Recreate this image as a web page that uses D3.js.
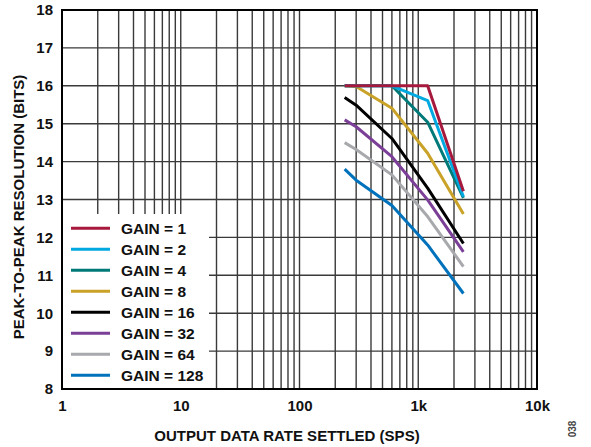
<!DOCTYPE html>
<html><head><meta charset="utf-8">
<script src="https://cdn.jsdelivr.net/npm/d3@7"></script>
<style>body{margin:0;background:#fff}svg{display:block}text{font-family:Arial,"Liberation Sans",sans-serif;font-weight:bold}</style>
</head><body><svg id="c" width="591" height="447"></svg>
<script>
const rates = [240, 300, 600, 1200, 2400];
const gains = ["GAIN = 1","GAIN = 2","GAIN = 4","GAIN = 8","GAIN = 16","GAIN = 32","GAIN = 64","GAIN = 128"];
const gain1   = [16, 16, 16, 16, 13.22];
const gain2   = [16, 16, 16, 15.61, 13.07];
const gain4   = [16, 16, 16, 15.04, 13.04];
const gain8   = [16, 15.98, 15.41, 14.22, 12.62];
const gain16  = [15.69, 15.49, 14.61, 13.30, 11.84];
const gain32  = [15.10, 14.92, 14.13, 12.99, 11.62];
const gain64  = [14.50, 14.32, 13.65, 12.55, 11.23];
const gain128 = [13.80, 13.51, 12.84, 11.80, 10.52];
const colors = ["#A6193C","#00A9E0","#007A78","#C9A227","#000000","#7B3F98","#A7A9AC","#0072BC"];
const xTickVals = [1, 10, 100, 1000, 10000];
const xTickLabels = ["1","10","100","1k","10k"];
const yTickVals = [8,9,10,11,12,13,14,15,16,17,18];

const series = [gain1, gain2, gain4, gain8, gain16, gain32, gain64, gain128];
const svg = d3.select("#c");
const L=62, R=537, T=10, B=389;
const x = d3.scaleLog().domain([1,10000]).range([L,R]);
const y = d3.scaleLinear().domain([8,18]).range([B,T]);
const FF = "Arial,'Liberation Sans',sans-serif";

// grid
const minor = [];
for (let d=1; d<10000; d*=10) for (let k=2;k<=9;k++) minor.push(d*k);
const grid = svg.append("g").attr("stroke","#3a3a3a").attr("stroke-width",1.4);
grid.selectAll("line.v").data(minor.concat([10,100,1000])).join("line")
  .attr("x1",d=>x(d)).attr("x2",d=>x(d)).attr("y1",T).attr("y2",B);
grid.selectAll("line.h").data(yTickVals.slice(1,-1)).join("line")
  .attr("x1",L).attr("x2",R).attr("y1",d=>y(d)).attr("y2",d=>y(d));

// legend background
svg.append("rect").attr("x",L+1).attr("y",214).attr("width",146).attr("height",B-214).attr("fill","#fff");

// frame
svg.append("rect").attr("x",L).attr("y",T).attr("width",R-L).attr("height",B-T)
  .attr("fill","none").attr("stroke","#000").attr("stroke-width",2);

// axes labels via d3 axes
const xAxis = d3.axisBottom(x).tickValues(xTickVals).tickFormat((d,i)=>xTickLabels[i]).tickSize(0).tickPadding(11);
const gx = svg.append("g").attr("transform",`translate(0,${B})`).call(xAxis);
gx.select(".domain").remove();
gx.selectAll("text").attr("font-size",15).attr("font-weight","bold").attr("fill","#111").attr("font-family",FF);
const yAxis = d3.axisLeft(y).tickValues(yTickVals).tickSize(0).tickPadding(9);
const gy = svg.append("g").attr("transform",`translate(${L},0)`).call(yAxis);
gy.select(".domain").remove();
gy.selectAll("text").attr("font-size",15).attr("font-weight","bold").attr("fill","#111").attr("font-family",FF);

// lines
const line = d3.line().x((d,i)=>x(rates[i])).y(d=>y(d));
for (let s=series.length-1; s>=0; s--) {
  svg.append("path").attr("d",line(series[s])).attr("fill","none")
    .attr("stroke",colors[s]).attr("stroke-width",3).attr("stroke-linejoin","round");
}

// legend
gains.forEach((g,i)=>{
  const yy = 228.3 + 21*i;
  svg.append("line").attr("x1",71).attr("x2",110).attr("y1",yy).attr("y2",yy)
    .attr("stroke",colors[i]).attr("stroke-width",3);
  svg.append("text").attr("x",121).attr("y",yy+5.5).attr("font-size",15.5).attr("fill","#111").text(g);
});

// titles
svg.append("text").attr("x",287).attr("y",441).attr("text-anchor","middle").attr("font-size",15).attr("fill","#111")
  .text("OUTPUT DATA RATE SETTLED (SPS)");
svg.append("text").attr("transform","translate(24,207) rotate(-90)").attr("text-anchor","middle").attr("font-size",15).attr("fill","#111")
  .text("PEAK-TO-PEAK RESOLUTION (BITS)");
svg.append("text").attr("transform","translate(576,429) rotate(-90)").attr("text-anchor","middle").attr("font-size",10)
  .attr("font-weight","normal").attr("fill","#444").text("038");
</script></body></html>
